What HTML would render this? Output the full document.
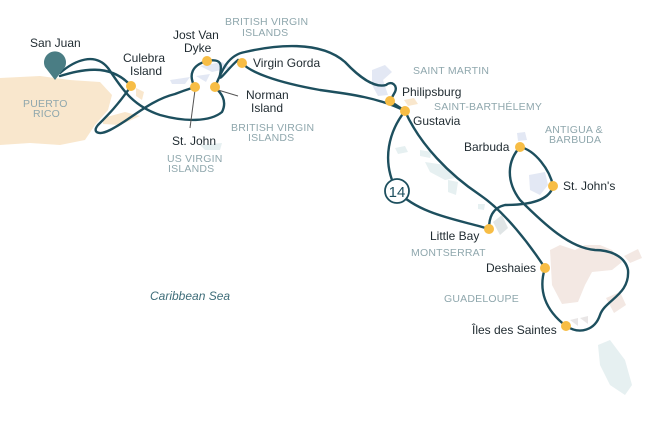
<!DOCTYPE html>
<html><head><style>
body{margin:0;background:#fff;}
svg{display:block;font-family:"Liberation Sans",sans-serif;}
.l{font-size:12px;fill:#1f2a30;}
.g{font-size:10.5px;fill:#8fa7ad;letter-spacing:.2px;}
</style></head><body>
<svg width="645" height="430" viewBox="0 0 645 430">
<path d="M0 78 L40 76 L70 80 L100 82 L112 95 L108 110 L95 125 L85 140 L60 145 L30 143 L0 145 Z" fill="#f9e7cd"/>
<path d="M103 118 L125 112 L140 116 L120 125 L103 124 Z" fill="#f9e7cd"/>
<path d="M136 88 L144 92 L142 100 L136 96 Z" fill="#f9e7cd"/>
<path d="M170 80 L190 77 L185 84 L172 84 Z" fill="#e3e8f4"/>
<path d="M200 66 L222 62 L230 68 L212 72 Z" fill="#e3e8f4"/>
<path d="M196 76 L210 74 L206 82 Z" fill="#e3e8f4"/>
<path d="M200 145 L222 143 L220 150 L205 150 Z" fill="#e6f0f1"/>
<path d="M372 70 L385 65 L392 72 L383 80 L388 95 L378 96 L372 85 Z" fill="#e3e8f4"/>
<path d="M404 100 L414 98 L418 104 L408 106 Z" fill="#f9e7cd"/>
<path d="M517 133 L525 132 L527 140 L518 141 Z" fill="#e3e8f4"/>
<path d="M529 175 L545 172 L548 185 L540 195 L530 190 Z" fill="#e3e8f4"/>
<path d="M395 148 L405 146 L408 152 L398 154 Z" fill="#e6f0f1"/>
<path d="M420 150 L432 152 L430 158 L420 156 Z" fill="#e6f0f1"/>
<path d="M425 162 L445 165 L455 178 L445 180 L430 172 Z" fill="#e6f0f1"/>
<path d="M448 180 L458 182 L456 195 L448 192 Z" fill="#e6f0f1"/>
<path d="M478 204 L485 204 L484 210 L478 209 Z" fill="#e6f0f1"/>
<path d="M493 222 L502 215 L508 228 L500 235 Z" fill="#e0e5e6"/>
<path d="M550 250 L560 245 L575 250 L585 245 L600 245 L612 250 L622 262 L612 270 L592 272 L585 285 L578 302 L562 304 L552 285 Z" fill="#f3e8e3"/>
<path d="M606 298 L620 292 L626 305 L614 313 Z" fill="#f3e8e3"/>
<path d="M624 256 L638 249 L642 258 L630 263 Z" fill="#f3e8e3"/>
<path d="M570 320 L578 318 L578 326 Z M580 318 L588 316 L588 324 Z" fill="#e9e6e6"/>
<path d="M598 345 L610 340 L625 360 L632 385 L625 395 L610 385 L600 365 Z" fill="#e6f0f1"/>
<g fill="none" stroke="#1d4f5e" stroke-width="2.4" stroke-linecap="round">
<path d="M60 73 C75 60 95 52 108 68 C120 85 130 105 160 115 C185 122 210 122 222 112 C228 100 220 92 215 87"/>
<path d="M60 76 C80 70 110 62 131 86 C118 105 108 115 98 125 C92 132 98 136 110 130 C130 120 150 100 175 94 C185 90 192 88 195 87 C188 75 192 65 207 61 C222 58 222 65 220 75 C218 84 228 68 238 60 L242 63 C250 72 275 82 320 90 C350 94 380 98 405 111"/>
<path d="M215 87 C222 70 228 55 245 52 C275 45 320 40 345 62 C360 78 375 88 386 85 C392 80 398 86 395 92 L390 101 L405 111"/>
<path d="M405 111 C390 130 380 160 397 191 C420 215 460 220 489 229"/>
<path d="M405 111 C420 145 450 175 480 195 C505 212 530 245 545 268 C538 290 545 310 566 326 C580 335 595 330 600 315 C605 300 630 295 628 270 C625 255 608 250 595 250 C570 248 545 225 520 200 C505 180 508 160 520 147 C535 150 550 170 553 186 C550 200 530 205 505 205 C492 208 489 218 489 229"/>
</g>
<g stroke="#555" stroke-width="1"><line x1="195" y1="90" x2="190" y2="128"/><line x1="218" y1="90" x2="238" y2="96"/></g>
<g fill="#f7bd45">
<circle cx="131" cy="86" r="5"/><circle cx="195" cy="87" r="5"/><circle cx="215" cy="87" r="5"/>
<circle cx="207" cy="61" r="5"/><circle cx="242" cy="63" r="5"/><circle cx="390" cy="101" r="5"/>
<circle cx="405" cy="111" r="5"/><circle cx="520" cy="147" r="5"/><circle cx="553" cy="186" r="5"/>
<circle cx="489" cy="229" r="5"/><circle cx="545" cy="268" r="5"/><circle cx="566" cy="326" r="5"/>
</g>
<path d="M55 80 L45 67 A11 11 0 1 1 65 67 Z" fill="#4a7d84"/>
<circle cx="397" cy="191" r="12" fill="#fff" stroke="#1d4f5e" stroke-width="1.8"/>
<text x="397" y="197" text-anchor="middle" font-size="15" fill="#1d4f5e">14</text>
<text class="l" x="30" y="47">San Juan</text>
<text class="l" x="123" y="62">Culebra</text>
<text class="l" x="130" y="75">Island</text>
<text class="l" x="173" y="39">Jost Van</text>
<text class="l" x="184" y="52">Dyke</text>
<text class="l" x="253" y="67">Virgin Gorda</text>
<text class="l" x="246" y="99">Norman</text>
<text class="l" x="251" y="112">Island</text>
<text class="l" x="172" y="145">St. John</text>
<text class="l" x="402" y="96">Philipsburg</text>
<text class="l" x="413" y="125">Gustavia</text>
<text class="l" x="464" y="151">Barbuda</text>
<text class="l" x="563" y="190">St. John's</text>
<text class="l" x="430" y="240">Little Bay</text>
<text class="l" x="486" y="272">Deshaies</text>
<text class="l" x="472" y="334">Îles des Saintes</text>
<text x="150" y="300" font-size="12" font-style="italic" fill="#3e6d79">Caribbean Sea</text>
<g class="g">
<text x="225" y="25">BRITISH VIRGIN</text><text x="242" y="36">ISLANDS</text>
<text x="23" y="107">PUERTO</text><text x="33" y="117">RICO</text>
<text x="231" y="131">BRITISH VIRGIN</text><text x="248" y="141">ISLANDS</text>
<text x="167" y="162">US VIRGIN</text><text x="168" y="172">ISLANDS</text>
<text x="413" y="74">SAINT MARTIN</text>
<text x="434" y="110">SAINT-BARTHÉLEMY</text>
<text x="545" y="133">ANTIGUA &amp;</text><text x="549" y="143">BARBUDA</text>
<text x="411" y="256">MONTSERRAT</text>
<text x="444" y="302">GUADELOUPE</text>
</g>
</svg>
</body></html>
